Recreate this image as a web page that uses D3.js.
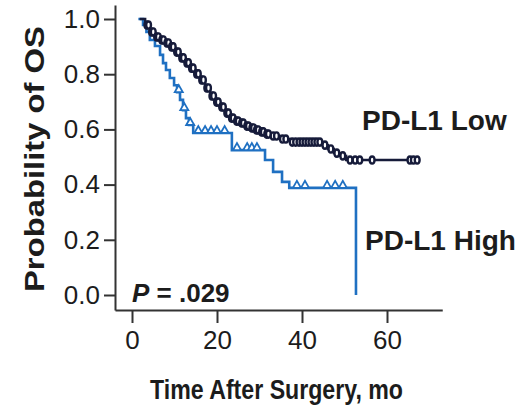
<!DOCTYPE html>
<html>
<head>
<meta charset="utf-8">
<script src="https://cdn.jsdelivr.net/npm/d3@7"></script>
<style>
  body { margin: 0; background: #fff; }
  text { font-family: "Liberation Sans", Arial, Helvetica, sans-serif; }
</style>
</head>
<body>
<svg id="chart" width="532" height="413"></svg>
<script>
// Axis ticks
const xTicks = [0, 20, 40, 60];
const yTicks = [0, 0.2, 0.4, 0.6, 0.8, 1.0];

// PD-L1 Low: event times (months) and survival after each event
const lowStart = 1.8;
const lowTimes = [3.1, 4.2, 5.4, 6.6, 7.8, 8.9, 10.1, 11.3, 12.5, 13.6, 14.8, 16.0, 17.2, 18.4, 19.5, 20.7,
                  21.9, 23.1, 24.2, 25.4, 26.6, 27.8, 28.9, 30.1, 31.3, 32.5, 34.8, 37.2, 44.7, 46.1, 47.5, 48.9, 50.4];
const lowSurv  = [0.978, 0.953, 0.935, 0.924, 0.913, 0.899, 0.880, 0.859, 0.841, 0.822, 0.801, 0.779, 0.750, 0.721, 0.699, 0.681,
                  0.659, 0.641, 0.630, 0.623, 0.612, 0.605, 0.598, 0.591, 0.583, 0.576, 0.565, 0.554, 0.543, 0.529, 0.514, 0.504, 0.489];
const lowEnd = 67.8;
const lowCensor = [3.5, 3.9, 4.6, 5.0, 5.8, 6.2, 7.0, 7.4, 8.2, 8.6, 9.3, 9.7, 10.5, 10.9, 11.7, 12.1, 12.9, 13.3,
                   14.0, 14.4, 15.2, 15.6, 16.4, 16.8, 17.6, 18.0, 18.8, 19.2, 19.9, 20.3, 21.1, 21.5, 22.3, 22.7,
                   23.4, 23.8, 24.6, 25.0, 25.8, 26.2, 27.0, 27.4, 28.2, 28.6, 29.3, 29.7, 30.5, 30.9, 31.7, 32.1,
                   33.2, 34.0, 35.4, 36.2, 37.7, 38.5, 39.3, 40.0, 40.7, 41.4, 42.1, 42.8, 43.5, 44.2, 45.4, 46.8,
                   48.2, 49.6, 51.3, 52.5, 53.6, 56.5, 65.4, 66.2, 67.1];

// PD-L1 High
const highStart = 1.5;
const highTimes = [2.6, 3.4, 4.2, 5.4, 6.6, 7.3, 8.0, 8.9, 9.9, 10.6, 11.3, 12.0, 12.7, 13.4, 14.4,
                   23.5, 31.3, 33.2, 35.3, 37.0, 52.7];
const highSurv  = [0.978, 0.953, 0.924, 0.902, 0.870, 0.840, 0.815, 0.786, 0.760, 0.735, 0.707, 0.670, 0.641, 0.616, 0.587,
                   0.525, 0.489, 0.446, 0.410, 0.388, 0.0];
const highEnd = 52.7;
const highCensor = [11.0, 12.3, 13.7, 15.6, 17.2, 18.6, 20.0, 21.8, 24.7, 27.1, 28.2, 29.4,
                    38.8, 40.7, 45.9, 47.8, 49.6];

const labelLow = "PD-L1 Low";
const labelHigh = "PD-L1 High";
const pValue = ".029";
const xTitle = "Time After Surgery, mo";
const yTitle = "Probability of OS";

const navy = "#161b3a";
const blue = "#1f70c2";
const ink = "#1c1c1c";

const svg = d3.select("#chart");

const x = d3.scaleLinear().domain([-4, 73]).range([115, 442.25]);
const y = d3.scaleLinear().domain([-15 / 276, 1 + 14 / 276]).range([310, 5]);

// Axes
const yAxis = svg.append("g")
  .attr("transform", "translate(115,0)")
  .call(d3.axisLeft(y).tickValues(yTicks).tickFormat(d3.format(".1f")).tickSize(11).tickSizeOuter(0).tickPadding(4));
const xAxis = svg.append("g")
  .attr("transform", "translate(0,310)")
  .call(d3.axisBottom(x).tickValues(xTicks).tickFormat(d3.format("d")).tickSize(13).tickSizeOuter(0).tickPadding(8));

[xAxis, yAxis].forEach(g => {
  g.select(".domain").attr("stroke", "#333").attr("stroke-width", 2);
  g.selectAll(".tick line").attr("stroke", "#333").attr("stroke-width", 2);
  g.selectAll(".tick text").attr("fill", ink).style("font-size", "26px")
    .style("font-family", "'Liberation Sans', Arial, sans-serif");
});

// Kaplan-Meier step curves
function stepData(start, times, surv, end) {
  const pts = [{ t: start, p: 1 }];
  times.forEach((t, i) => pts.push({ t, p: surv[i] }));
  pts.push({ t: end, p: surv[surv.length - 1] });
  return pts;
}
function survAt(t, times, surv) {
  let p = 1;
  times.forEach((e, i) => { if (e <= t) p = surv[i]; });
  return p;
}
const line = d3.line().x(d => x(d.t)).y(d => y(d.p)).curve(d3.curveStepAfter);

svg.append("path")
  .datum(stepData(highStart, highTimes, highSurv, highEnd))
  .attr("d", line).attr("fill", "none").attr("stroke", blue).attr("stroke-width", 2.6);

svg.append("path")
  .datum(stepData(lowStart, lowTimes, lowSurv, lowEnd))
  .attr("d", line).attr("fill", "none").attr("stroke", navy).attr("stroke-width", 2.4);

// Censor marks
svg.append("g").selectAll("path")
  .data(highCensor)
  .join("path")
  .attr("d", d => {
    const cx = x(d), cy = y(survAt(d, highTimes, highSurv));
    return `M${cx - 4},${cy}L${cx},${cy - 7}L${cx + 4},${cy}Z`;
  })
  .attr("fill", "#fff").attr("stroke", blue).attr("stroke-width", 1.8).attr("stroke-linejoin", "miter");

svg.append("g").selectAll("ellipse")
  .data(lowCensor)
  .join("ellipse")
  .attr("cx", d => x(d))
  .attr("cy", d => y(survAt(d, lowTimes, lowSurv)))
  .attr("rx", 2.4).attr("ry", 3.6)
  .attr("fill", "#fff").attr("stroke", navy).attr("stroke-width", 2.4);

// Titles and annotations
svg.append("text")
  .attr("x", 150).attr("y", 399)
  .attr("textLength", 253).attr("lengthAdjust", "spacingAndGlyphs")
  .attr("fill", ink).style("font-size", "28px").style("font-weight", "bold")
  .text(xTitle);

svg.append("text")
  .attr("transform", "translate(44,292) rotate(-90)")
  .attr("textLength", 266).attr("lengthAdjust", "spacingAndGlyphs")
  .attr("fill", ink).style("font-size", "27px").style("font-weight", "bold")
  .text(yTitle);

svg.append("text")
  .attr("x", 362).attr("y", 130)
  .attr("fill", ink).style("font-size", "28px").style("font-weight", "bold")
  .text(labelLow);

svg.append("text")
  .attr("x", 365).attr("y", 250)
  .attr("fill", ink).style("font-size", "28px").style("font-weight", "bold")
  .text(labelHigh);

const pt = svg.append("text")
  .attr("x", 132).attr("y", 302)
  .attr("fill", ink).style("font-size", "26px").style("font-weight", "bold");
pt.append("tspan").style("font-style", "italic").text("P");
pt.append("tspan").text(" = " + pValue);
</script>
</body>
</html>
